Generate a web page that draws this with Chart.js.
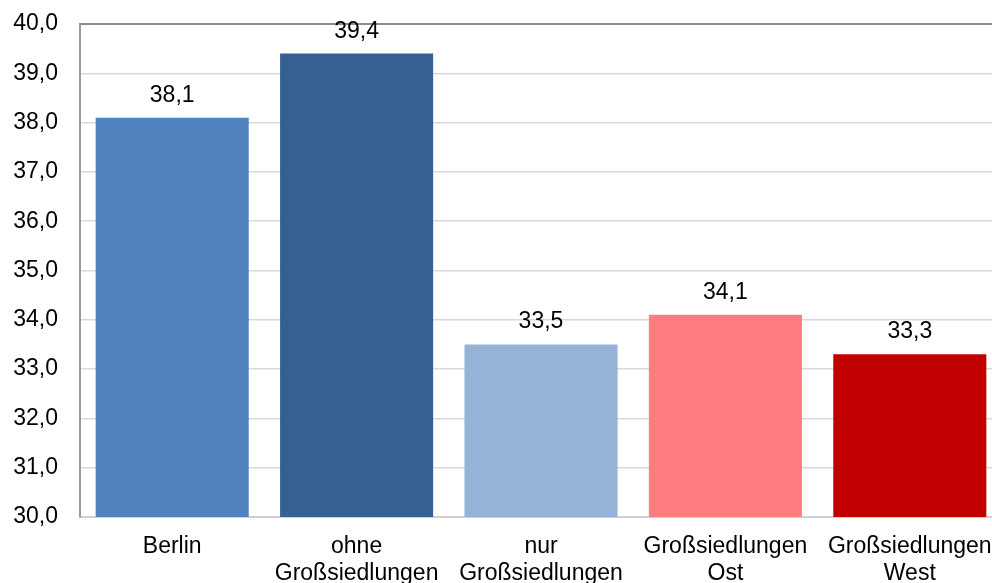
<!DOCTYPE html>
<html lang="de">
<head>
<meta charset="utf-8">
<title>Durchschnittsalter</title>
<script src="https://cdn.jsdelivr.net/npm/chart.js@4/dist/chart.umd.min.js"></script>
<style>
  html, body { margin: 0; padding: 0; background: #ffffff; overflow: hidden; width: 992px; height: 583px; }
  #wrap { position: absolute; left: 0; top: 0; width: 1002px; height: 583px; }
</style>
</head>
<body>
<div id="wrap"><canvas id="chart"></canvas></div>
<script>
// Gebiete (mehrzeilige Achsenbeschriftung)
const categories = [
  ["Berlin"],
  ["ohne", "Großsiedlungen"],
  ["nur", "Großsiedlungen"],
  ["Großsiedlungen", "Ost"],
  ["Großsiedlungen", "West"]
];
// Werte je Gebiet
const values = [38.1, 39.4, 33.5, 34.1, 33.3];
// Balkenfarben je Gebiet
const barColors = ["#4F81BD", "#376092", "#95B3D7", "#FF7C80", "#C00000"];
// Achsenbereich
const yMin = 30;
const yMax = 40;
const yStep = 1;

const FONT = '"Liberation Sans", Arial, sans-serif';
const FONT_SIZE = 23;
const fmt = v => v.toFixed(1).replace('.', ',');

// Werte über den Balken
const valueLabels = {
  id: 'valueLabels',
  afterDatasetsDraw(chart) {
    const ctx = chart.ctx;
    const meta = chart.getDatasetMeta(0);
    ctx.save();
    ctx.font = FONT_SIZE + 'px ' + FONT;
    ctx.fillStyle = '#000000';
    ctx.textAlign = 'center';
    ctx.textBaseline = 'alphabetic';
    meta.data.forEach((bar, i) => {
      ctx.fillText(fmt(values[i]), bar.x, bar.y - 16);
    });
    ctx.restore();
  }
};

new Chart(document.getElementById('chart'), {
  type: 'bar',
  data: {
    labels: categories,
    datasets: [{
      data: values,
      backgroundColor: barColors,
      borderWidth: 0,
      barPercentage: 0.83,
      categoryPercentage: 1.0
    }]
  },
  options: {
    responsive: true,
    maintainAspectRatio: false,
    animation: false,
    layout: { padding: { top: 24, right: 0, bottom: 0, left: 0 } },
    plugins: {
      legend: { display: false },
      tooltip: { enabled: false }
    },
    scales: {
      x: {
        grid: { display: false, drawTicks: false },
        border: { display: true, color: '#d0d0d0', width: 2 },
        ticks: {
          color: '#000000',
          font: { family: FONT, size: FONT_SIZE, lineHeight: 1.17 },
          padding: 16,
          maxRotation: 0,
          autoSkip: false
        },
        afterFit(axis) {
          axis.height = 66;
          axis.paddingLeft = 0;
          axis.paddingRight = 0;
        }
      },
      y: {
        min: yMin,
        max: yMax,
        grid: {
          drawTicks: false,
          color: ctx => (ctx.tick && ctx.tick.value === yMax) ? '#8c8c8c' : '#d9d9d9',
          lineWidth: ctx => (ctx.tick && ctx.tick.value === yMax) ? 2 : 1.5
        },
        border: { display: true, color: '#9a9a9a', width: 2 },
        ticks: {
          stepSize: yStep,
          color: '#000000',
          font: { family: FONT, size: FONT_SIZE },
          padding: 22,
          callback: v => fmt(v)
        },
        afterFit(axis) {
          axis.width = 80;
          axis.paddingTop = 0;
          axis.paddingBottom = 0;
        }
      }
    }
  },
  plugins: [valueLabels]
});
</script>
</body>
</html>
